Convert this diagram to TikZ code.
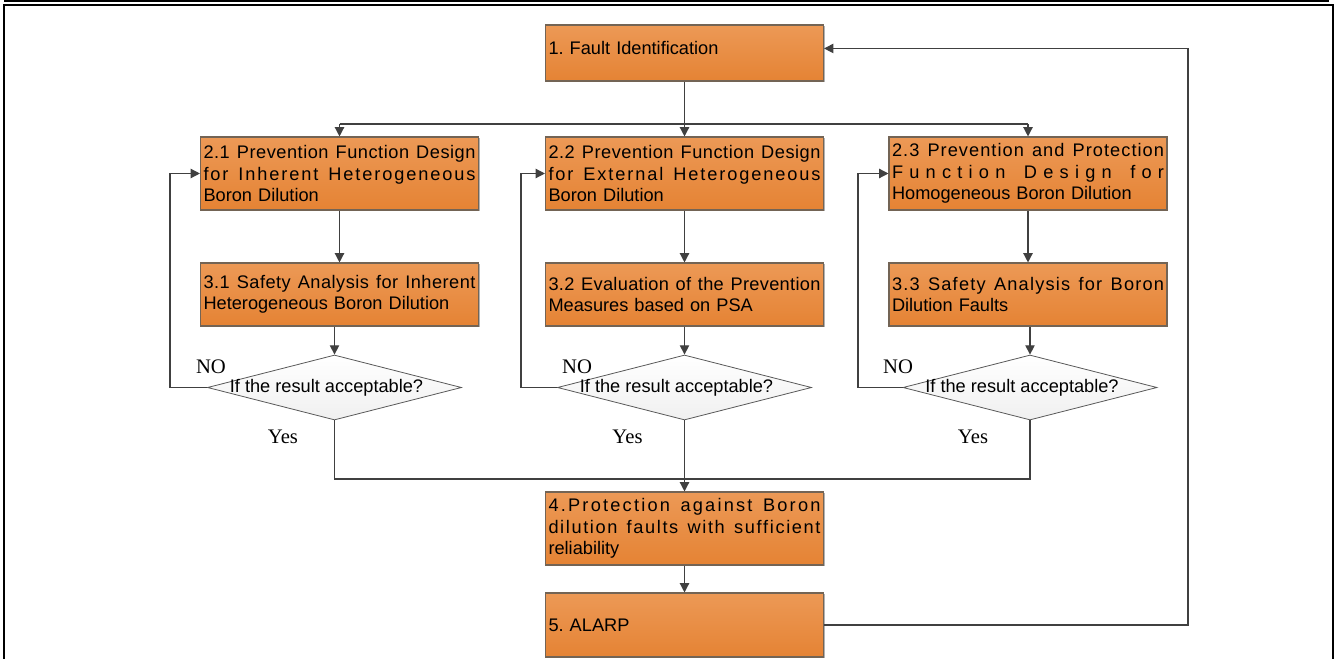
\documentclass[tikz,border=0pt]{standalone}
\usepackage{fontspec}
\setmainfont{Liberation Sans}
\newfontfamily\timesfont{Liberation Serif}
\usepackage{xcolor}
\usepackage{tikz}
\usetikzlibrary{arrows.meta,shapes.geometric,shadows}
\frenchspacing

\definecolor{boxtop}{RGB}{236,153,86}
\definecolor{boxbot}{RGB}{229,131,52}
\definecolor{boxline}{RGB}{115,100,85}
\definecolor{conline}{RGB}{64,64,64}

\ExplSyntaxOn
\NewDocumentCommand \spreadline { m }
  {
    \makebox[\linewidth][s]
      {
        \bool_set_true:N \l_tmpa_bool
        \str_map_inline:nn {#1}
          {
            \bool_if:NF \l_tmpa_bool { \hfill }
            \bool_set_false:N \l_tmpa_bool
            ##1
          }
      }
  }
\ExplSyntaxOff
\newcommand\asktext{\makebox[0pt]{If the result acceptable?\hspace{12pt}}}

\begin{document}
\begin{tikzpicture}[x=0.75pt,y=-0.75pt,
    every node/.style={font=\fontsize{13.65pt}{16.1pt}\selectfont},
    stage/.style={draw=boxline,line width=0.8pt,top color=boxtop,bottom color=boxbot,
        minimum width=208.5pt,text width=204pt,inner xsep=2.25pt,align=left,
        drop shadow={shadow xshift=1.1pt,shadow yshift=-1.1pt,opacity=0.3,fill=black}},
    check/.style={diamond,draw=gray!70!black,line width=0.6pt,top color=white,bottom color=gray!12,
        minimum width=190.5pt,minimum height=48.75pt,inner sep=0pt},
    tag/.style={font=\timesfont\fontsize{15.5pt}{17pt}\selectfont,inner sep=0pt},
    link/.style={draw=conline,line width=1pt},
    flow/.style={link,-{Triangle[length=7pt,width=7pt]}}]
    \useasboundingbox (0,0) rectangle (1334,659);
    \draw[line width=1.3pt] (5,1) -- (1328,1);
    \draw[line width=1pt] (5,0) -- (5,2) (285,0) -- (285,2) (1328,0) -- (1328,2);
    \draw[line width=1.5pt] (3,5) -- (1334,5);
    \draw[line width=1.5pt] (4,5) -- (4,659) (1333,5) -- (1333,659);

    \node[stage,minimum height=42pt] (fault) at (684.5,53)
        {\raisebox{3.5pt}[\height][\depth]{1. Fault Identification}};
    \node[stage,minimum height=54.75pt] (prev1) at (339.5,173.5)
        {\spreadline{2.1 Prevention Function Design}\\\spreadline{for Inherent Heterogeneous}\\Boron Dilution};
    \node[stage,minimum height=54.75pt] (prev2) at (684.5,173.5)
        {\spreadline{2.2 Prevention Function Design}\\\spreadline{for External Heterogeneous}\\Boron Dilution};
    \node[stage,minimum height=54.75pt] (prev3) at (1028,173.5)
        {\spreadline{2.3 Prevention and Protection}\\\spreadline{Function Design for}\\Homogeneous Boron Dilution};
    \node[stage,minimum height=47.25pt] (safe1) at (339.5,294.5)
        {\spreadline{3.1 Safety Analysis for Inherent}\\Heterogeneous Boron Dilution};
    \node[stage,minimum height=47.25pt] (safe2) at (684.5,294.5)
        {\spreadline{3.2 Evaluation of the Prevention}\\Measures based on PSA};
    \node[stage,minimum height=47.25pt] (safe3) at (1028,294.5)
        {\spreadline{3.3 Safety Analysis for Boron}\\Dilution Faults};
    \node[check] (ok1) at (334.5,387.5) {\asktext};
    \node[check] (ok2) at (684.5,387.5) {\asktext};
    \node[check] (ok3) at (1030,387.5) {\asktext};
    \node[stage,minimum height=54.75pt] (protect) at (684.5,528.5)
        {\spreadline{4.Protection against Boron}\\\spreadline{dilution faults with sufficient}\\reliability};
    \node[stage,minimum height=48pt] (alarp) at (684.5,625) {5. ALARP};

    \node[tag] (no1) at (211,367) {NO};
    \node[tag] (no2) at (577,367) {NO};
    \node[tag] (no3) at (898,367) {NO};
    \node[tag] (yes1) at (283,437) {Yes};
    \node[tag] (yes2) at (627.5,437) {Yes};
    \node[tag] (yes3) at (973,437) {Yes};

    \coordinate (split) at (0,124);
    \coordinate (join) at (0,479);
    \coordinate (back1) at (170,0);
    \coordinate (back2) at (521,0);
    \coordinate (back3) at (858,0);
    \coordinate (back) at (1188,0);

    \draw[flow] (fault) -- (prev2);
    \draw[link] (split -| prev1) -- (split -| prev3);
    \draw[flow] (split -| prev1) -- (prev1);
    \draw[flow] (split -| prev3) -- (prev3);
    \draw[flow] (prev1) -- (safe1);
    \draw[flow] (prev2) -- (safe2);
    \draw[flow] (prev3) -- (safe3);
    \draw[flow] (safe1.south -| ok1) -- (ok1);
    \draw[flow] (safe2) -- (ok2);
    \draw[flow] (safe3.south -| ok3) -- (ok3);
    \draw[flow] (ok1.west) -- (ok1.west -| back1) |- (prev1.west);
    \draw[flow] (ok2.west) -- (ok2.west -| back2) |- (prev2.west);
    \draw[flow] (ok3.west) -- (ok3.west -| back3) |- (prev3.west);
    \draw[link] (ok1.south) -- (ok1.south |- join) -- (ok3.south |- join) -- (ok3.south);
    \draw[flow] (ok2) -- (protect);
    \draw[flow] (protect) -- (alarp);
    \draw[flow] (alarp.east) -- (alarp.east -| back) |- ([yshift=3.4pt]fault.east);
\end{tikzpicture}
\end{document}
